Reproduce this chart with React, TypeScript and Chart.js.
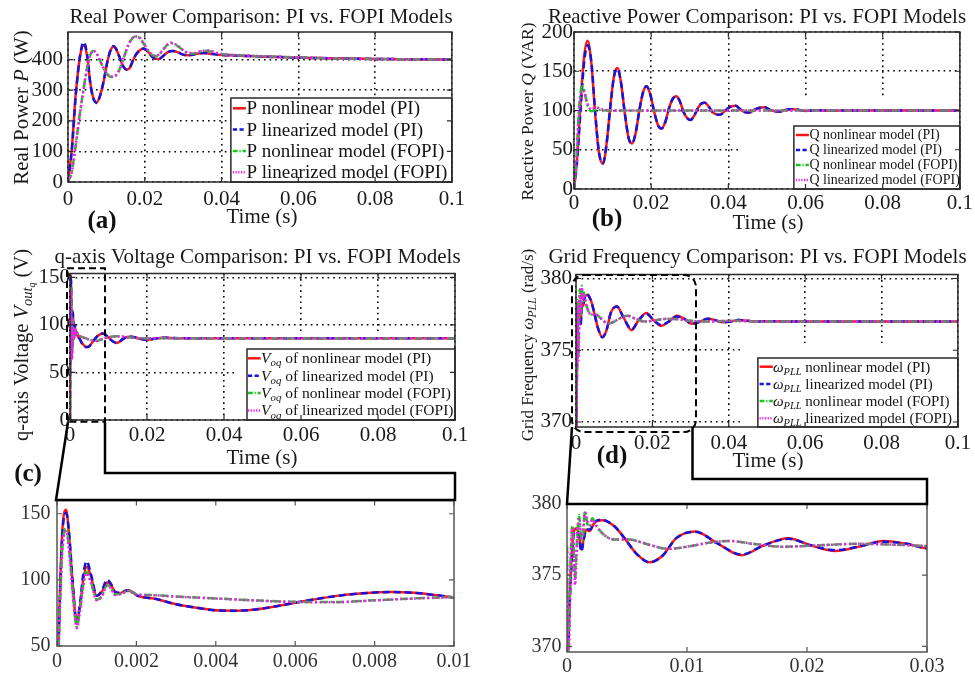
import React, { useEffect, useRef } from 'react';
import { Chart, registerables } from 'chart.js';
Chart.register(...registerables);

const SERIF = '"Liberation Serif", "Times New Roman", Times, serif';

// ---------------- tick labels ----------------
const xTicksMain = [0, 0.02, 0.04, 0.06, 0.08, 0.1];
const xTicksZoomV = [0, 0.002, 0.004, 0.006, 0.008, 0.01];
const xTicksZoomW = [0, 0.01, 0.02, 0.03];
const yTicksP = [0, 100, 200, 300, 400];
const yTicksQ = [0, 50, 100, 150, 200];
const yTicksV = [0, 50, 100, 150];
const yTicksVZoom = [50, 100, 150];
const yTicksW = [370, 375, 380];

// ---------------- (a) real power ----------------
const tP_PI = [0, 0.001, 0.002, 0.0032, 0.0041, 0.005, 0.0058, 0.0066, 0.0075, 0.0084, 0.0093, 0.0103, 0.0111, 0.0118, 0.0127, 0.0137, 0.0145, 0.0153, 0.0162, 0.0172, 0.0185, 0.0197, 0.0207, 0.0217, 0.0227, 0.0237, 0.0248, 0.026, 0.0273, 0.0286, 0.0298, 0.031, 0.0325, 0.034, 0.0355, 0.037, 0.039, 0.042, 0.046, 0.05, 0.055, 0.06, 0.065, 0.07, 0.08, 0.09, 0.1];
const pNonlinPI = [0, 110, 285, 415, 447, 410, 325, 275, 260, 285, 330, 395, 430, 443, 430, 398, 375, 367, 375, 405, 428, 436, 428, 412, 403, 402, 412, 424, 428, 424, 417, 414, 416, 420, 421, 419, 416, 414, 412, 410, 408, 406, 405, 404, 402, 401, 400];
const pLinPI = [0, 105, 280, 418, 457, 415, 322, 272, 258, 283, 330, 396, 431, 444, 431, 399, 376, 367, 376, 406, 429, 436, 428, 412, 403, 402, 412, 424, 428, 424, 417, 414, 416, 420, 421, 419, 416, 414, 412, 410, 408, 406, 405, 404, 402, 401, 400];
const tP_FO = [0, 0.001, 0.002, 0.003, 0.004, 0.005, 0.0058, 0.0066, 0.0075, 0.0085, 0.0095, 0.0105, 0.0115, 0.0125, 0.0135, 0.0145, 0.0155, 0.0165, 0.0175, 0.0187, 0.0198, 0.0208, 0.0218, 0.0228, 0.0238, 0.0248, 0.0258, 0.0268, 0.0278, 0.029, 0.0302, 0.0315, 0.033, 0.0345, 0.036, 0.0375, 0.039, 0.042, 0.046, 0.05, 0.055, 0.06, 0.065, 0.07, 0.08, 0.09, 0.1];
const pNonlinFO = [0, 35, 120, 215, 300, 375, 415, 428, 418, 392, 365, 348, 343, 348, 370, 405, 440, 465, 475, 470, 450, 430, 416, 411, 417, 432, 447, 454, 450, 440, 428, 420, 420, 426, 429, 426, 420, 416, 413, 411, 409, 407, 405, 404, 402, 401, 400];
const pLinFO = [0, 33, 118, 212, 298, 373, 414, 428, 419, 393, 366, 349, 344, 349, 371, 406, 441, 466, 476, 471, 451, 431, 417, 412, 418, 433, 448, 455, 451, 441, 429, 421, 421, 427, 430, 427, 421, 416, 413, 411, 409, 407, 405, 404, 402, 401, 400];

// ---------------- (b) reactive power ----------------
const tQ_PI = [0, 0.0008, 0.0017, 0.0026, 0.0035, 0.0045, 0.0055, 0.0065, 0.0075, 0.0085, 0.0094, 0.0104, 0.01125, 0.0122, 0.0132, 0.0142, 0.01505, 0.016, 0.017, 0.018, 0.0188, 0.0198, 0.0208, 0.0218, 0.0227, 0.0237, 0.0247, 0.0256, 0.0265, 0.0274, 0.0284, 0.0294, 0.0302, 0.0311, 0.0321, 0.033, 0.0339, 0.0349, 0.0359, 0.0369, 0.0378, 0.0388, 0.0399, 0.0409, 0.0419, 0.043, 0.0442, 0.0455, 0.0468, 0.0481, 0.0494, 0.0507, 0.052, 0.0533, 0.0546, 0.0558, 0.057, 0.0585, 0.06, 0.063, 0.067, 0.072, 0.08, 0.09, 0.1];
const qNonlinPI = [0, 40, 110, 168, 189, 160, 95, 45, 32, 60, 105, 145, 154, 135, 95, 64, 58, 72, 102, 125, 131, 120, 98, 81, 77, 86, 104, 115, 118, 112, 98, 90, 88, 93, 103, 109, 110, 105, 98, 95, 94.5, 98, 103, 105.5, 106, 102, 98, 97.4, 101, 103.5, 104, 101, 99, 98.7, 100.5, 101.5, 101.5, 100.5, 99.5, 100.3, 99.8, 100.1, 100, 100, 100];
const qLinPI = [0, 35, 100, 160, 183, 162, 97, 46, 33, 60, 104, 144, 153, 135, 95, 64, 58, 72, 102, 125, 131, 120, 98, 81, 77, 86, 104, 115, 118, 112, 98, 90, 88, 93, 103, 109, 110, 105, 98, 95, 94.5, 98, 103, 105.5, 106, 102, 98, 97.4, 101, 103.5, 104, 101, 99, 98.7, 100.5, 101.5, 101.5, 100.5, 99.5, 100.3, 99.8, 100.1, 100, 100, 100];
const tQ_FO = [0, 0.0004, 0.0008, 0.0012, 0.0016, 0.002, 0.0023, 0.0027, 0.0032, 0.0038, 0.0045, 0.0052, 0.0058, 0.0065, 0.0075, 0.009, 0.011, 0.015, 0.02, 0.03, 0.05, 0.1];
const qNonlinFO = [0, 20, 55, 95, 120, 130, 131, 125, 112, 102, 99, 100.5, 101.5, 101, 100.3, 100, 100, 100, 100, 100, 100, 100];
const qLinFO = [0, 18, 50, 88, 112, 122, 125, 123, 114, 105, 101.5, 103, 104, 103, 101, 100.3, 100, 100, 100, 100, 100, 100];

// ---------------- (c) q-axis voltage ----------------
const tV_PI = [0, 0.00005, 0.00013, 0.00023, 0.0003, 0.0004, 0.00049, 0.00058, 0.00066, 0.00075, 0.00085, 0.001, 0.00113, 0.00126, 0.00136, 0.00146, 0.00158, 0.00176, 0.0019, 0.002, 0.0025, 0.003, 0.0035, 0.0041, 0.0045, 0.005, 0.006, 0.007, 0.0077, 0.0084, 0.009, 0.0095, 0.01, 0.0107, 0.0114, 0.0121, 0.0129, 0.0138, 0.0149, 0.016, 0.017, 0.018, 0.0199, 0.0218, 0.0238, 0.026, 0.03, 0.04, 0.06, 0.08, 0.1];
const vNonlinPI = [0, 65, 135, 153, 135, 95, 69, 80, 100, 110, 103, 88, 91, 98, 96, 91, 90, 92, 91, 88.5, 85.5, 81.5, 79, 76.8, 76.7, 77.6, 82.7, 87.7, 89.8, 90.8, 90.2, 88.6, 86.7, 84, 82, 81, 82.5, 85.3, 87.3, 87.6, 86.8, 85.5, 84.2, 85.3, 86.5, 86.2, 86, 86, 86, 86, 86];
const vLinPI = [0, 62, 132, 150.5, 137, 96, 68, 82, 104, 114, 105, 88, 92, 100, 97, 91, 90, 92, 91, 88.5, 85.5, 81.5, 79, 76.8, 76.7, 77.6, 82.7, 87.7, 89.8, 90.8, 90.2, 88.6, 86.7, 84, 82, 81, 82.5, 85.3, 87.3, 87.6, 86.8, 85.5, 84.2, 85.3, 86.5, 86.2, 86, 86, 86, 86, 86];
const tV_FO = [0, 0.00005, 0.00013, 0.00023, 0.0003, 0.0004, 0.0005, 0.00058, 0.00066, 0.00074, 0.00085, 0.001, 0.00113, 0.00126, 0.00136, 0.00146, 0.0016, 0.0018, 0.0019, 0.002, 0.0023, 0.003, 0.004, 0.005, 0.006, 0.007, 0.008, 0.009, 0.01, 0.011, 0.012, 0.014, 0.016, 0.018, 0.02, 0.025, 0.03, 0.04, 0.06, 0.08, 0.1];
const vNonlinFO = [0, 60, 122, 139, 125, 90, 64.5, 78, 96, 106, 99, 85, 88, 96, 94, 89, 89.5, 91.7, 90.5, 89, 88.6, 87.4, 86, 84.5, 83.4, 83.2, 84.6, 86, 87, 87.8, 88, 87.5, 86.6, 86, 85.8, 86, 86, 86, 86, 86, 86];
const vLinFO = [0, 58, 120, 137, 124, 89, 63.5, 77, 95, 105, 98.5, 84.5, 87.5, 95.5, 93.5, 88.5, 89.2, 91.5, 90.3, 88.9, 88.5, 87.3, 85.9, 84.4, 83.3, 83.1, 84.5, 85.9, 86.9, 87.7, 87.9, 87.4, 86.5, 86, 85.8, 86, 86, 86, 86, 86, 86];

// ---------------- (d) grid frequency ----------------
const tW_PI = [0, 0.0001, 0.00025, 0.0004, 0.00055, 0.0008, 0.001, 0.0012, 0.0014, 0.0016, 0.0019, 0.0023, 0.0029, 0.0033, 0.004, 0.0047, 0.0058, 0.0069, 0.008, 0.0091, 0.0107, 0.0125, 0.01455, 0.0164, 0.01845, 0.0203, 0.02235, 0.0243, 0.0264, 0.0283, 0.0303, 0.0325, 0.0345, 0.0365, 0.0385, 0.0405, 0.0425, 0.045, 0.0475, 0.05, 0.055, 0.06, 0.08, 0.1];
const wNonlinPI = [369, 370.5, 374, 376.5, 378, 378.3, 377.8, 376.8, 377.6, 378.2, 378.1, 378.7, 378.85, 378.8, 378.4, 377.7, 376.5, 375.9, 376.4, 377.6, 378.07, 377.25, 376.4, 377.1, 377.6, 377.1, 376.7, 377.0, 377.4, 377.2, 376.85, 377.0, 377.2, 377.1, 376.95, 377.0, 377.1, 377.05, 377.0, 377.03, 377.0, 377, 377, 377];
const wLinPI = [369, 370, 373.5, 376, 377.8, 378.1, 377.6, 376.65, 377.5, 378.2, 378.2, 378.75, 378.9, 378.8, 378.4, 377.7, 376.5, 375.9, 376.4, 377.6, 378.05, 377.25, 376.45, 377.1, 377.55, 377.1, 376.75, 377.0, 377.35, 377.2, 376.85, 377.0, 377.2, 377.1, 376.95, 377.0, 377.1, 377.05, 377.0, 377.03, 377.0, 377, 377, 377];
const tW_FO = [0, 0.00008, 0.0002, 0.0003, 0.00045, 0.00058, 0.00067, 0.0008, 0.001, 0.0012, 0.00135, 0.0015, 0.0017, 0.0019, 0.0021, 0.0025, 0.003, 0.0035, 0.004, 0.0052, 0.006, 0.007, 0.0084, 0.01, 0.012, 0.0136, 0.0155, 0.018, 0.021, 0.0242, 0.027, 0.03, 0.035, 0.04, 0.05, 0.1];
const wNonlinFO = [377, 369, 372, 376, 378.5, 376.5, 374.7, 377, 379.25, 377.4, 377.8, 379.5, 378.6, 378.4, 379.0, 378.4, 377.9, 377.6, 377.5, 377.5, 377.35, 377.1, 376.85, 377.0, 377.3, 377.4, 377.2, 377.0, 377.1, 377.2, 377.15, 377.05, 377.0, 377.05, 377.0, 377.0];
const wLinFO = [377, 368.5, 371, 375.5, 378.3, 376, 374.3, 376.5, 378.9, 377.6, 378.3, 379.4, 378.8, 378.5, 378.9, 378.4, 377.9, 377.6, 377.5, 377.5, 377.35, 377.1, 376.85, 377.0, 377.3, 377.4, 377.2, 377.0, 377.1, 377.2, 377.15, 377.05, 377.0, 377.05, 377.0, 377.0];

// ---------------- styles ----------------
type Sty = { color: string; dash: number[]; order: number };
const RED: Sty = { color: '#ff1414', dash: [], order: 4 };
const BLUE: Sty = { color: '#1414dc', dash: [7, 4], order: 3 };
const GREEN: Sty = { color: '#1cc41c', dash: [8, 3, 2, 3], order: 2 };
const MAG: Sty = { color: '#ff14ff', dash: [2, 2.5], order: 1 };

type Run = { t: string; it?: boolean; lv?: number; bold?: boolean };

function drawRich(ctx: CanvasRenderingContext2D, runs: Run[], x: number, y: number, size: number, align: string, color: string) {
  const items = runs.map((r) => {
    const lv = r.lv || 0;
    const s = size * Math.pow(0.7, lv);
    const font = `${r.it ? 'italic ' : ''}${r.bold ? 'bold ' : ''}${s}px ${SERIF}`;
    ctx.font = font;
    return { r, lv, font, w: ctx.measureText(r.t).width };
  });
  const total = items.reduce((a, b) => a + b.w, 0);
  let cx = align === 'center' ? x - total / 2 : x;
  const base = y + size * 0.32;
  ctx.fillStyle = color;
  ctx.textAlign = 'left';
  ctx.textBaseline = 'alphabetic';
  for (const it of items) {
    ctx.font = it.font;
    const dy = it.lv === 0 ? 0 : it.lv === 1 ? size * 0.2 : size * 0.33;
    ctx.fillText(it.r.t, cx, base + dy);
    cx += it.w;
  }
}

type Series = { t: number[]; v: number[]; s: Sty };
type TextSpec = { runs: Run[]; x: number; y: number; size: number };
type LegendSpec = { w: number; h: number; size: number; first: number; gap: number; s0: number; s1: number; tx: number; labels: Run[][] };
type Spec = {
  id: string;
  canvas: { x: number; y: number; w: number; h: number };
  area: { l: number; t: number; r: number; b: number };
  xMin: number; xMax: number; xTicks: number[];
  yMin: number; yMax: number; yTicks: number[];
  grid: boolean; tickSize: number; tickColor: string; xPad: number; yPad: number;
  frameColor: string;
  series: Series[];
  texts: TextSpec[];
  yTitle?: TextSpec;
  legend?: LegendSpec;
  mask?: { x0: number; yTop: number };
};

const R = (t: string): Run[] => [{ t }];
const legP: Run[][] = [R('P nonlinear model (PI)'), R('P linearized model (PI)'), R('P nonlinear model (FOPI)'), R('P linearized model (FOPI)')];
const legQ: Run[][] = [R('Q nonlinear model (PI)'), R('Q linearized model (PI)'), R('Q nonlinear model (FOPI)'), R('Q linearized model (FOPI)')];
const vq = (rest: string): Run[] => [{ t: 'V', it: true }, { t: 'oq', it: true, lv: 1 }, { t: rest }];
const legV: Run[][] = [vq(' of nonlinear model (PI)'), vq(' of linearized model (PI)'), vq(' of nonlinear model (FOPI)'), vq(' of linearized model (FOPI)')];
const wp = (rest: string): Run[] => [{ t: 'ω', it: true }, { t: 'PLL', it: true, lv: 1 }, { t: rest }];
const legW: Run[][] = [wp(' nonlinear model (PI)'), wp(' linearized model (PI)'), wp(' nonlinear model (FOPI)'), wp(' linearized model (FOPI)')];

const seriesP: Series[] = [
  { t: tP_PI, v: pNonlinPI, s: RED }, { t: tP_PI, v: pLinPI, s: BLUE },
  { t: tP_FO, v: pNonlinFO, s: GREEN }, { t: tP_FO, v: pLinFO, s: MAG },
];
const seriesQ: Series[] = [
  { t: tQ_PI, v: qNonlinPI, s: RED }, { t: tQ_PI, v: qLinPI, s: BLUE },
  { t: tQ_FO, v: qNonlinFO, s: GREEN }, { t: tQ_FO, v: qLinFO, s: MAG },
];
const seriesV: Series[] = [
  { t: tV_PI, v: vNonlinPI, s: RED }, { t: tV_PI, v: vLinPI, s: BLUE },
  { t: tV_FO, v: vNonlinFO, s: GREEN }, { t: tV_FO, v: vLinFO, s: MAG },
];
const seriesW: Series[] = [
  { t: tW_PI, v: wNonlinPI, s: RED }, { t: tW_PI, v: wLinPI, s: BLUE },
  { t: tW_FO, v: wNonlinFO, s: GREEN }, { t: tW_FO, v: wLinFO, s: MAG },
];

const TITLE_P = 'Real Power Comparison: PI vs. FOPI Models';
const TITLE_Q = 'Reactive Power Comparison: PI vs. FOPI Models';
const TITLE_V = 'q-axis Voltage Comparison: PI vs. FOPI Models';
const TITLE_W = 'Grid Frequency Comparison: PI vs. FOPI Models';

const specs: Spec[] = [
  {
    id: 'a', canvas: { x: 0, y: 0, w: 470, h: 232 }, area: { l: 68, t: 32, r: 454, b: 182 },
    xMin: 0, xMax: 0.1, xTicks: xTicksMain, yMin: 0, yMax: 490, yTicks: yTicksP,
    grid: true, tickSize: 21, tickColor: '#1a1a1a', xPad: 5, yPad: 5, frameColor: '#2a2a2a',
    series: seriesP,
    texts: [{ runs: R(TITLE_P), x: 261, y: 16.5, size: 21 }, { runs: R('Time (s)'), x: 262, y: 216.5, size: 21 }],
    yTitle: { runs: [{ t: 'Real Power ' }, { t: 'P', it: true }, { t: ' (W)' }], x: 21.5, y: 107.5, size: 21 },
    legend: { w: 221, h: 84, size: 19, first: 10.3, gap: 21.3, s0: 2, s1: 15, tx: 15.5, labels: legP },
  },
  {
    id: 'b', canvas: { x: 490, y: 0, w: 485, h: 238 }, area: { l: 574, t: 32, r: 960, b: 189 },
    xMin: 0, xMax: 0.1, xTicks: xTicksMain, yMin: 0, yMax: 200, yTicks: yTicksQ,
    grid: true, tickSize: 21, tickColor: '#1a1a1a', xPad: 2, yPad: 1, frameColor: '#2a2a2a',
    series: seriesQ,
    texts: [{ runs: R(TITLE_Q), x: 757, y: 16.5, size: 21 }, { runs: R('Time (s)'), x: 768, y: 222, size: 21 }],
    yTitle: { runs: [{ t: 'Reactive Power ' }, { t: 'Q', it: true }, { t: ' (VAR)' }], x: 527, y: 111.5, size: 17.5 },
    legend: { w: 166, h: 63, size: 14, first: 9, gap: 15, s0: 2, s1: 15, tx: 15.5, labels: legQ },
    mask: { x0: 0.0435, yTop: 117.5 },
  },
  {
    id: 'c', canvas: { x: 0, y: 240, w: 475, h: 228 }, area: { l: 70, t: 273.5, r: 455, b: 420 },
    xMin: 0, xMax: 0.1, xTicks: xTicksMain, yMin: 0, yMax: 154, yTicks: yTicksV,
    grid: true, tickSize: 21, tickColor: '#1a1a1a', xPad: 2.5, yPad: 0, frameColor: '#2a2a2a',
    series: seriesV,
    texts: [{ runs: R(TITLE_V), x: 257.5, y: 256.7, size: 21 }, { runs: R('Time (s)'), x: 262, y: 457, size: 21 }],
    yTitle: { runs: [{ t: 'q-axis Voltage ' }, { t: 'V', it: true }, { t: 'out', it: true, lv: 1 }, { t: 'q', it: true, lv: 2 }, { t: ' (V)' }], x: 21.7, y: 345, size: 20.5 },
    legend: { w: 208, h: 71, size: 15.5, first: 9.3, gap: 17.4, s0: 1, s1: 13.7, tx: 14, labels: legV },
    mask: { x0: 0.0433, yTop: 90.5 },
  },
  {
    id: 'd', canvas: { x: 490, y: 240, w: 485, h: 230 }, area: { l: 576, t: 274.5, r: 961, b: 427 },
    xMin: 0, xMax: 0.1, xTicks: xTicksMain, yMin: 369.65, yMax: 380.28, yTicks: yTicksW,
    grid: true, tickSize: 21, tickColor: '#1a1a1a', xPad: 4, yPad: 4, frameColor: '#2a2a2a',
    series: seriesW,
    texts: [{ runs: R(TITLE_W), x: 757.5, y: 256.7, size: 21 }, { runs: R('Time (s)'), x: 768, y: 460, size: 21 }],
    yTitle: { runs: [{ t: 'Grid Frequency ' }, { t: 'ω', it: true }, { t: 'PLL', it: true, lv: 1 }, { t: ' (rad/s)' }], x: 527.3, y: 345, size: 17 },
    legend: { w: 200, h: 69, size: 15, first: 8.7, gap: 17.2, s0: 1.7, s1: 15, tx: 15, labels: legW },
    mask: { x0: 0.0429, yTop: 375.5 },
  },
  {
    id: 'c2', canvas: { x: 0, y: 482, w: 475, h: 196 }, area: { l: 57, t: 500, r: 455, b: 646 },
    xMin: 0, xMax: 0.01, xTicks: xTicksZoomV, yMin: 50, yMax: 160, yTicks: yTicksVZoom,
    grid: false, tickSize: 20, tickColor: '#333', xPad: 3.5, yPad: 6.5, frameColor: '#555',
    series: seriesV, texts: [],
  },
  {
    id: 'd2', canvas: { x: 490, y: 482, w: 462, h: 196 }, area: { l: 567, t: 504, r: 927, b: 652 },
    xMin: 0, xMax: 0.03, xTicks: xTicksZoomW, yMin: 369.6, yMax: 380, yTicks: yTicksW,
    grid: false, tickSize: 20, tickColor: '#333', xPad: 3, yPad: 5.5, frameColor: '#555',
    series: seriesW, texts: [],
  },
];

function PanelChart({ spec }: { spec: Spec }) {
  const ref = useRef<HTMLCanvasElement>(null);
  useEffect(() => {
    const cv = ref.current!;
    const ox = spec.canvas.x, oy = spec.canvas.y;
    const L = spec.area.l - ox;
    const T = spec.area.t - oy;
    const RP = ox + spec.canvas.w - spec.area.r;
    const B = oy + spec.canvas.h - spec.area.b;

    const deco = {
      id: 'deco_' + spec.id,
      beforeDatasetsDraw(chart: any) {
        if (!spec.mask) return;
        const ctx = chart.ctx as CanvasRenderingContext2D;
        const a = chart.chartArea;
        const px = chart.scales.x.getPixelForValue(spec.mask.x0);
        const py = chart.scales.y.getPixelForValue(spec.mask.yTop);
        ctx.save();
        ctx.fillStyle = '#ffffff';
        ctx.fillRect(px, py, a.right - 1 - px, a.bottom - 1 - py);
        ctx.restore();
      },
      afterDatasetsDraw(chart: any) {
        const ctx = chart.ctx as CanvasRenderingContext2D;
        const a = chart.chartArea;
        const xs = chart.scales.x, ys = chart.scales.y;
        ctx.save();
        // legend
        if (spec.legend) {
          const lg = spec.legend;
          const lx = a.right - lg.w, ly = a.bottom - lg.h;
          ctx.fillStyle = '#ffffff';
          ctx.fillRect(lx, ly, lg.w, lg.h);
          ctx.strokeStyle = '#2a2a2a';
          ctx.lineWidth = 1.5;
          ctx.setLineDash([]);
          ctx.strokeRect(lx, ly, lg.w, lg.h);
          lg.labels.forEach((runs, i) => {
            const s = spec.series[i].s;
            const cy = ly + lg.first + i * lg.gap;
            ctx.strokeStyle = s.color;
            ctx.lineWidth = 2.5;
            ctx.setLineDash(s.dash.length ? s.dash.map((d) => d * 0.6) : []);
            ctx.beginPath();
            ctx.moveTo(lx + lg.s0, cy);
            ctx.lineTo(lx + lg.s1, cy);
            ctx.stroke();
            ctx.setLineDash([]);
            drawRich(ctx, runs, lx + lg.tx, cy, lg.size, 'left', '#141414');
          });
        }
        // frame
        ctx.setLineDash([]);
        ctx.strokeStyle = spec.frameColor;
        ctx.lineWidth = 1.5;
        ctx.strokeRect(a.left, a.top, a.right - a.left, a.bottom - a.top);
        // inward ticks
        ctx.lineWidth = 1.2;
        ctx.beginPath();
        for (const v of spec.xTicks) {
          const p = xs.getPixelForValue(v);
          ctx.moveTo(p, a.bottom); ctx.lineTo(p, a.bottom - 5);
          ctx.moveTo(p, a.top); ctx.lineTo(p, a.top + 5);
        }
        for (const v of spec.yTicks) {
          const p = ys.getPixelForValue(v);
          ctx.moveTo(a.left, p); ctx.lineTo(a.left + 5, p);
          ctx.moveTo(a.right, p); ctx.lineTo(a.right - 5, p);
        }
        ctx.stroke();
        // texts
        for (const tx of spec.texts) {
          drawRich(ctx, tx.runs, tx.x - ox, tx.y - oy, tx.size, 'center', '#1a1a1a');
        }
        if (spec.yTitle) {
          const yt = spec.yTitle;
          ctx.translate(yt.x - ox, yt.y - oy);
          ctx.rotate(-Math.PI / 2);
          drawRich(ctx, yt.runs, 0, 0, yt.size, 'center', '#1a1a1a');
        }
        ctx.restore();
      },
    };

    const datasets = spec.series.map((se, i) => ({
      label: 'series' + i,
      data: se.t.map((t, k) => ({ x: t, y: se.v[k] })),
      borderColor: se.s.color,
      borderWidth: 2.5,
      borderDash: se.s.dash,
      pointRadius: 0,
      fill: false,
      cubicInterpolationMode: 'monotone' as const,
      order: se.s.order,
    }));

    const tickFont = { family: SERIF, size: spec.tickSize };
    const chart = new Chart(cv, {
      type: 'line',
      data: { datasets },
      options: {
        responsive: false,
        animation: false,
        devicePixelRatio: 1,
        events: [],
        layout: { padding: { top: T, right: RP, left: 0, bottom: 0 } },
        plugins: { legend: { display: false }, title: { display: false }, tooltip: { enabled: false } },
        scales: {
          x: {
            type: 'linear', min: spec.xMin, max: spec.xMax,
            afterBuildTicks: (s: any) => { s.ticks = spec.xTicks.map((v) => ({ value: v })); },
            afterFit: (s: any) => { s.height = B; },
            ticks: { autoSkip: false, maxRotation: 0, minRotation: 0, padding: spec.xPad, color: spec.tickColor, font: tickFont, callback: (v: any) => String(v) },
            grid: { display: spec.grid, drawTicks: false, color: '#000', lineWidth: 1.6 },
            border: { display: false, dash: [1.6, 4] },
          },
          y: {
            type: 'linear', min: spec.yMin, max: spec.yMax,
            afterBuildTicks: (s: any) => { s.ticks = spec.yTicks.map((v) => ({ value: v })); },
            afterFit: (s: any) => { s.width = L; },
            ticks: { autoSkip: false, padding: spec.yPad, color: spec.tickColor, font: tickFont, callback: (v: any) => String(v) },
            grid: { display: spec.grid, drawTicks: false, color: '#000', lineWidth: 1.6 },
            border: { display: false, dash: [1.6, 4] },
          },
        },
      },
      plugins: [deco],
    } as any);
    return () => chart.destroy();
  }, [spec]);
  return (
    <canvas
      ref={ref}
      width={spec.canvas.w}
      height={spec.canvas.h}
      style={{ position: 'absolute', left: spec.canvas.x, top: spec.canvas.y }}
    />
  );
}

const panelLabels = [
  { t: '(a)', x: 102, y: 222 },
  { t: '(b)', x: 607, y: 220 },
  { t: '(c)', x: 28, y: 475 },
  { t: '(d)', x: 612, y: 457 },
];

function Overlay() {
  const ref = useRef<HTMLCanvasElement>(null);
  useEffect(() => {
    const ctx = ref.current!.getContext('2d')!;
    ctx.clearRect(0, 0, 975, 678);
    ctx.strokeStyle = '#000';
    // dashed zoom boxes
    ctx.lineWidth = 2;
    ctx.setLineDash([7, 4]);
    ctx.strokeRect(67, 268.3, 38, 153.4);
    ctx.beginPath();
    (ctx as any).roundRect(572, 275, 124, 157, 12);
    ctx.stroke();
    // connectors
    ctx.setLineDash([]);
    ctx.lineWidth = 2.5;
    ctx.lineJoin = 'miter';
    ctx.beginPath();
    ctx.moveTo(68, 422); ctx.lineTo(56, 500); ctx.lineTo(455, 500); ctx.lineTo(455, 473); ctx.lineTo(105, 473); ctx.lineTo(105, 422);
    ctx.stroke();
    ctx.beginPath();
    ctx.moveTo(572, 427); ctx.lineTo(567, 504); ctx.lineTo(927, 504); ctx.lineTo(927, 479); ctx.lineTo(692.5, 479); ctx.lineTo(692.5, 427);
    ctx.stroke();
    // panel labels
    ctx.fillStyle = '#111';
    ctx.font = `bold 25px ${SERIF}`;
    ctx.textAlign = 'center';
    ctx.textBaseline = 'middle';
    for (const l of panelLabels) ctx.fillText(l.t, l.x, l.y);
  }, []);
  return <canvas ref={ref} width={975} height={678} style={{ position: 'absolute', left: 0, top: 0, pointerEvents: 'none' }} />;
}

export default function App() {
  return (
    <div style={{ position: 'absolute', left: 0, top: 0, width: 975, height: 678, background: '#ffffff', overflow: 'hidden' }}>
      {specs.map((s) => (
        <PanelChart key={s.id} spec={s} />
      ))}
      <Overlay />
    </div>
  );
}
